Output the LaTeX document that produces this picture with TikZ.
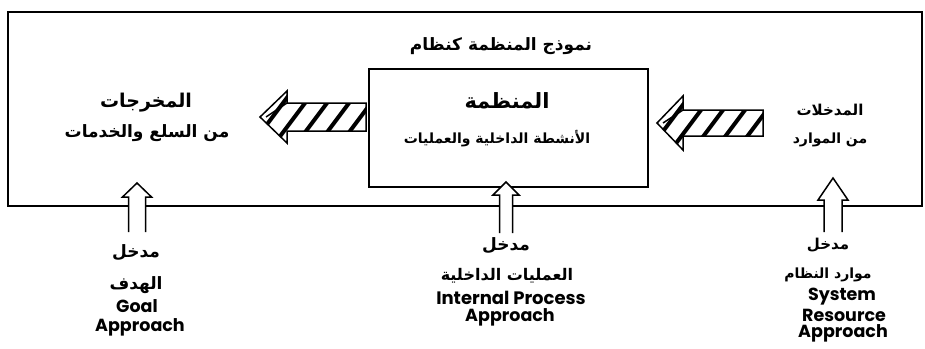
\documentclass[tikz,border=0pt]{standalone}
\usepackage{fontspec}
\setmainfont{DejaVu Sans}
\newfontfamily\arabicfont[Script=Arabic]{DejaVu Sans}
\newfontfamily\engfont{Poppins}
\TeXXeTstate=1
\newcommand{\artxt}[1]{{\arabicfont\bfseries\beginR #1\endR}}
% hatched left-pointing arrow: tipx, basex, tailx, y, shaft half, head half
\newcommand{\hatchleft}[6]{%
  \fill[white] (#1,#4) -- (#2,{#4-#6}) -- (#2,{#4-#5}) -- (#3,{#4-#5}) -- (#3,{#4+#5}) -- (#2,{#4+#5}) -- (#2,{#4+#6}) -- cycle;
  \begin{scope}
    \clip (#1,#4) -- (#2,{#4-#6}) -- (#2,{#4-#5}) -- (#3,{#4-#5}) -- (#3,{#4+#5}) -- (#2,{#4+#5}) -- (#2,{#4+#6}) -- cycle;
    \foreach \s in {-34,-12,...,120} \draw[stripe] ({#2+\s},{#4+#6}) -- ({#2+\s+1.5*#6},{#4-#6});
  \end{scope}
  \draw[arrowline] (#1,#4) -- (#2,{#4-#6}) -- (#2,{#4-#5}) -- (#3,{#4-#5}) -- (#3,{#4+#5}) -- (#2,{#4+#5}) -- (#2,{#4+#6}) -- cycle;
  \draw[arrowline] ({#1+6},#4) -- (#2,{#4-#5});
}
% hollow up arrow: cx, tipy, basey, bottomy, shaft half, head half
\newcommand{\hollowup}[6]{%
  \fill[white] (#1,#2) -- ({#1+#6},#3) -- ({#1+#5},#3) -- ({#1+#5},#4) -- ({#1-#5},#4) -- ({#1-#5},#3) -- ({#1-#6},#3) -- cycle;
  \draw[arrowline] ({#1+#5},#4) -- ({#1+#5},#3) -- ({#1+#6},#3) -- (#1,#2) -- ({#1-#6},#3) -- ({#1-#5},#3) -- ({#1-#5},#4);
}
\begin{document}
\begin{tikzpicture}[x=1pt,y=-1pt,
  frame/.style={draw, line width=1.8pt},
  arrowline/.style={line width=1.5pt, line join=miter},
  stripe/.style={line width=4pt},
  ar/.style={inner sep=0pt},
  en/.style={inner sep=0pt, font=\engfont\bfseries\fontsize{17.5}{19}\selectfont}]
\useasboundingbox (0,0) rectangle (925,348);
\fill[white] (0,0) rectangle (925,348);
% outer system frame
\node[frame, minimum width=914pt, minimum height=194pt, inner sep=0pt] (sys) at (465,109) {};
% organisation box
\node[frame, line width=1.6pt, minimum width=279pt, minimum height=118pt, inner sep=0pt] (org) at (508.5,128) {};
% texts
\node[ar, font=\fontsize{17}{19}\selectfont] (title) at (501,46) {\artxt{نموذج المنظمة كنظام}};
\node[ar, font=\fontsize{21}{23}\selectfont] (orgname) at (507,101) {\artxt{المنظمة}};
\node[ar, font=\fontsize{14}{16}\selectfont] (orgact) at (497,139) {\artxt{الأنشطة الداخلية والعمليات}};
\node[ar, font=\fontsize{19}{21}\selectfont] (out1) at (146,103) {\artxt{المخرجات}};
\node[ar, font=\fontsize{17}{19}\selectfont] (out2) at (147,133) {\artxt{من السلع والخدمات}};
\node[ar, font=\fontsize{15}{17}\selectfont] (in1) at (830,110) {\artxt{المدخلات}};
\node[ar, font=\fontsize{14}{16}\selectfont] (in2) at (830,140) {\artxt{من الموارد}};
% hatched arrows
\hatchleft{260}{287}{366}{117}{14}{26}
\hatchleft{657}{683}{763}{123}{13}{27}
% hollow up arrows
\hollowup{137}{183}{197}{232}{8.5}{14.5}
\hollowup{506}{182}{195}{233}{6.5}{13}
\hollowup{833}{178}{200}{232}{9}{15}
% goal approach labels
\node[ar, font=\fontsize{17}{19}\selectfont] (g1) at (136,253) {\artxt{مدخل}};
\node[ar, font=\fontsize{17}{19}\selectfont] (g2) at (136,285) {\artxt{الهدف}};
\node[en] (g3) at (137,306) {Goal};
\node[en] (g4) at (140,327) {Approach};
% internal process labels
\node[ar, font=\fontsize{17}{19}\selectfont] (i1) at (506,246) {\artxt{مدخل}};
\node[ar, font=\fontsize{16}{18}\selectfont] (i2) at (507,276) {\artxt{العمليات الداخلية}};
\node[en, font=\engfont\bfseries\fontsize{18}{20}\selectfont] (i3) at (511,298) {Internal Process};
\node[en] (i4) at (510,317) {Approach};
% system resource labels
\node[ar, font=\fontsize{15}{17}\selectfont] (s1) at (828,245) {\artxt{مدخل}};
\node[ar, font=\fontsize{14}{16}\selectfont] (s2) at (828,275) {\artxt{موارد النظام}};
\node[en] (s3) at (842,297) {System};
\node[en] (s4) at (844,315) {Resource};
\node[en] (s5) at (843,333) {Approach};
\end{tikzpicture}
\end{document}
